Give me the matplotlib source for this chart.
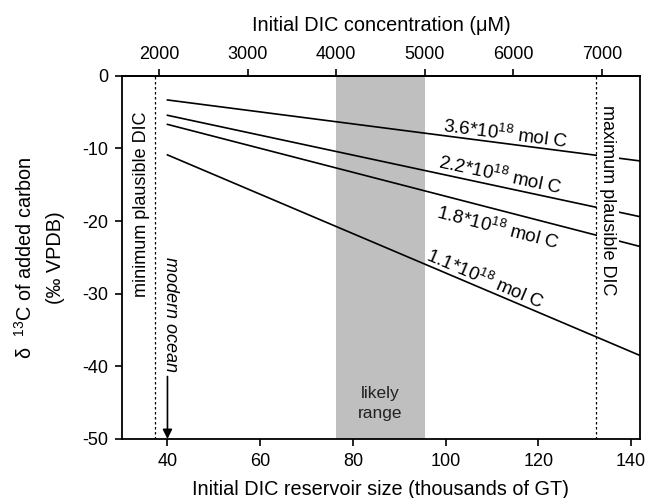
import numpy as np
import matplotlib
matplotlib.use('Agg')
import matplotlib.pyplot as plt

plt.rcParams['font.family'] = ['Liberation Sans', 'DejaVu Sans']
plt.rcParams['mathtext.fontset'] = 'custom'
plt.rcParams['mathtext.rm'] = 'Liberation Sans'
plt.rcParams['mathtext.it'] = 'Liberation Sans'
plt.rcParams['mathtext.default'] = 'regular'
plt.rcParams['axes.unicode_minus'] = False

# reservoir size (thousands of GT) at the two ends of each line
x_ends = [40, 141.9]
labels = ['3.6*10$^{18}$ mol C', '2.2*10$^{18}$ mol C',
          '1.8*10$^{18}$ mol C', '1.1*10$^{18}$ mol C']
y_start = [-3.34, -5.45, -6.7, -10.9]
y_end = [-11.73, -19.4, -23.5, -38.5]

likely_range = [76.4, 95.5]          # = 4000-5000 uM
min_dic, max_dic = 37.4, 132.5
gt_per_um = 0.0191                   # thousands of GT per uM
top_ticks = [2000, 3000, 4000, 5000, 6000, 7000]

fig = plt.figure(figsize=(6.47, 4.98), dpi=100)
ax = fig.add_axes([0.1886, 0.1185, 0.8004, 0.7295])
ax.set_xlim(30.2, 141.9)
ax.set_ylim(-50, 0)

ax.axvspan(likely_range[0], likely_range[1], color='#bfbfbf', lw=0, zorder=0)
ax.text(sum(likely_range) / 2, -45.1, 'likely\nrange', ha='center', va='center',
        fontsize=12.5, color='#222222', linespacing=1.45)

for ys, ye in zip(y_start, y_end):
    ax.plot(x_ends, [ys, ye], color='black', lw=1.2, zorder=2)

# line labels, rotated along each line
lab_x = [112.8, 111.7, 111.3, 108.5]
lab_dy = [1.3, 1.6, -2.5, 1.4]
for lab, ys, ye, lx, dy in zip(labels, y_start, y_end, lab_x, lab_dy):
    slope = (ye - ys) / (x_ends[1] - x_ends[0])
    ly = ys + slope * (lx - x_ends[0]) + dy
    ang = np.degrees(np.arctan(slope))
    ax.text(lx, ly, lab, ha='center', va='center', fontsize=13.6,
            rotation=ang, transform_rotates_text=True, rotation_mode='anchor')

ax.axvline(min_dic, color='black', ls=(0, (2, 2)), lw=0.9, zorder=4)
ax.axvline(max_dic, color='black', ls=(0, (2, 2)), lw=0.9, zorder=4)
ax.text(34.5, -17.7, 'minimum plausible DIC', rotation=90, ha='center', va='center',
        fontsize=13)
ax.text(135.0, -17.2, 'maximum plausible DIC', rotation=270, ha='center', va='center',
        fontsize=13, zorder=3,
        bbox=dict(facecolor='white', edgecolor='none', pad=1.5))

ax.text(40.6, -32.8, 'modern ocean', rotation=270, ha='center', va='center',
        fontsize=13, style='italic')
ax.annotate('', xy=(40, -50), xytext=(40, -41.4),
            arrowprops=dict(arrowstyle='-|>', color='black', lw=1.2,
                            mutation_scale=14, shrinkA=0, shrinkB=0))

ax.set_xticks([40, 60, 80, 100, 120, 140])
ax.set_yticks([0, -10, -20, -30, -40, -50])
ax.tick_params(direction='out', length=5, width=1.2, labelsize=13, pad=5)
ax.tick_params(axis='y', right=False)
for sp in ax.spines.values():
    sp.set_linewidth(1.3)
ax.set_xlabel('Initial DIC reservoir size (thousands of GT)', fontsize=14.3, labelpad=7)
ax.set_ylabel('δ  $^{13}$C of added carbon\n(‰ VPDB)', fontsize=14.3, labelpad=12,
              linespacing=1.7)

top = ax.secondary_xaxis('top', functions=(lambda g: g / gt_per_um,
                                           lambda u: u * gt_per_um))
top.set_xticks(top_ticks)
top.tick_params(direction='out', length=5, width=1.2, labelsize=13, pad=4)
top.spines['top'].set_linewidth(1.3)
top.set_xlabel('Initial DIC concentration (μM)', fontsize=14.3, labelpad=11)

fig.savefig('out.png', dpi=100)
